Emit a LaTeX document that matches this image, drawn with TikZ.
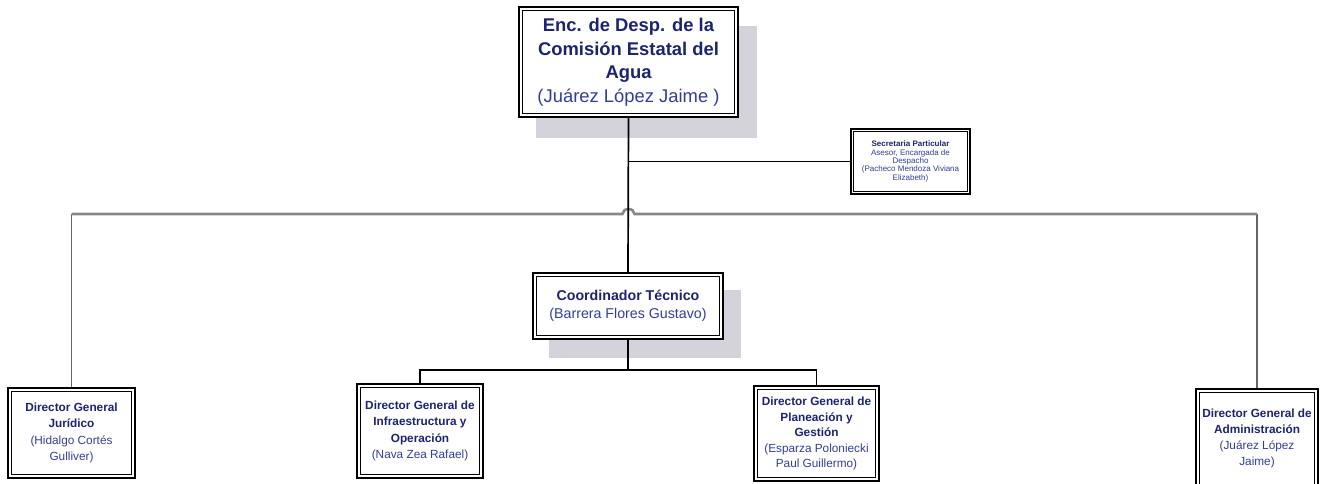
\documentclass[tikz,border=0pt]{standalone}
\usepackage{fontspec}
\setmainfont{Liberation Sans}
\usetikzlibrary{backgrounds}
\definecolor{navy}{RGB}{28,36,110}
\definecolor{nameblue}{RGB}{50,62,150}
\definecolor{shadowgray}{RGB}{212,210,218}
\definecolor{linegray}{RGB}{135,135,140}
\tikzset{
  orgbox/.style={draw=black, line width=2pt, fill=white, inner sep=0pt, align=center, text=navy,
    path picture={\draw[line width=0.9pt]
      ([shift={(3.5pt,-3.5pt)}]path picture bounding box.north west) rectangle
      ([shift={(-3.5pt,3.5pt)}]path picture bounding box.south east);}},
  thinbox/.style={orgbox, line width=1.6pt,
    path picture={\draw[line width=0.7pt]
      ([shift={(2.5pt,-2.5pt)}]path picture bounding box.north west) rectangle
      ([shift={(-2.5pt,2.5pt)}]path picture bounding box.south east);}},
  blackline/.style={draw=black, line width=1.7pt},
  grayline/.style={draw=linegray, line width=2.6pt},
  grayvert/.style={draw=linegray!75!black, line width=1.7pt},
  dirfont/.style={font=\fontsize{11.8}{16.2}\selectfont},
}
\begin{document}
\begin{tikzpicture}[x=1pt,y=-1pt]
\useasboundingbox (0,0) rectangle (1322,483);

% nodes
\node[orgbox, minimum width=219pt, minimum height=110pt,
      font=\fontsize{18.4}{23.5}\selectfont] (top) at (628.5,62)
  {\bfseries Enc. de Desp. de la\\\bfseries Comisión Estatal del\\\bfseries Agua\\\color{nameblue}(Juárez López Jaime )};

\node[thinbox, minimum width=119pt, minimum height=65pt,
      font=\fontsize{8}{8.4}\selectfont] (sec) at (910.5,161.5)
  {\bfseries Secretaria Particular\\\color{nameblue}Asesor, Encargada de\\\color{nameblue}Despacho\\\color{nameblue}(Pacheco Mendoza Viviana\\\color{nameblue}Elizabeth)};

\node[orgbox, minimum width=190pt, minimum height=66pt,
      font=\fontsize{14.2}{18}\selectfont] (coord) at (628,306)
  {\bfseries Coordinador Técnico\\\color{nameblue}(Barrera Flores Gustavo)};

\node[orgbox, dirfont, minimum width=127pt, minimum height=90pt] (jur) at (71.5,433)
  {\bfseries Director General\\\bfseries Jurídico\\\color{nameblue}(Hidalgo Cortés\\\color{nameblue}Gulliver)};

\node[orgbox, dirfont, minimum width=126pt, minimum height=94pt] (inf) at (420,431)
  {\bfseries Director General de\\\bfseries Infraestructura y\\\bfseries Operación\\\color{nameblue}(Nava Zea Rafael)};

\node[orgbox, minimum width=125pt, minimum height=95pt,
      font=\fontsize{11.8}{15.5}\selectfont] (pla) at (816.5,433.5)
  {\bfseries Director General de\\\bfseries Planeación y\\\bfseries Gestión\\\color{nameblue}(Esparza Poloniecki\\\color{nameblue}Paul Guillermo)};

\node[orgbox, dirfont, minimum width=122pt, minimum height=99pt] (adm) at (1257,438.5)
  {\bfseries Director General de\\\bfseries Administración\\\color{nameblue}(Juárez López\\\color{nameblue}Jaime)};

% shadows
\begin{scope}[on background layer]
  \fill[shadowgray] ([shift={(18pt,-20pt)}]top.north west) rectangle ([shift={(18pt,-20pt)}]top.south east);
  \fill[shadowgray] ([shift={(17pt,-18pt)}]coord.north west) rectangle ([shift={(17pt,-18pt)}]coord.south east);
\end{scope}

% connectors
\coordinate (hopc) at (top.south |- 0,214);
\coordinate (bus) at (coord.south |- 0,370);

\draw[grayvert] (jur.north) -- (jur.north |- hopc);
\draw[grayvert] (adm.north) -- (adm.north |- hopc);
\draw[grayline] (jur.north |- hopc) -- ([xshift=-6pt]hopc)
  arc[start angle=180, end angle=360, x radius=6, y radius=5]
  -- (adm.north |- hopc);

\draw[blackline] (top.south) -- (coord.north);
\draw[blackline] (top.south |- sec.west) -- (sec.west);
\draw[blackline] (coord.south) -- (bus);
\draw[blackline] (inf.north) |- (bus) -| (pla.north);
\end{tikzpicture}
\end{document}
